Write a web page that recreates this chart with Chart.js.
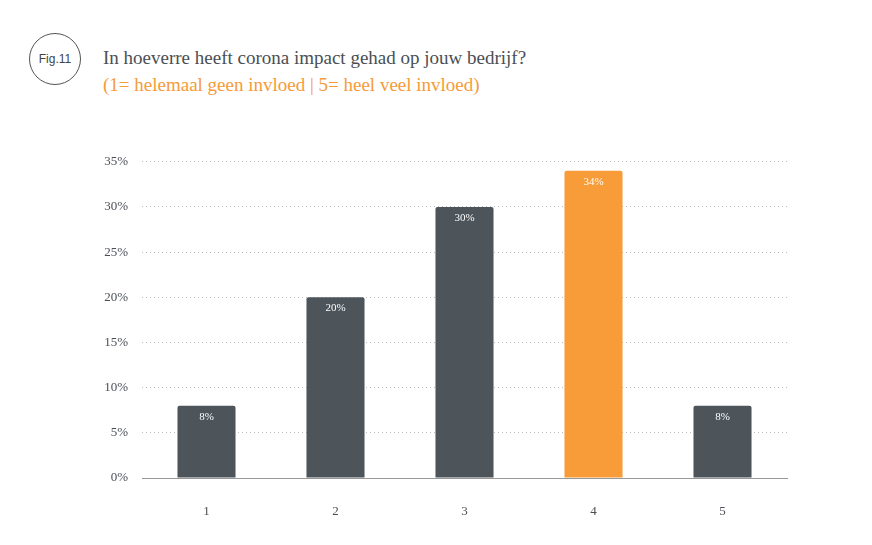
<!DOCTYPE html>
<html>
<head>
<meta charset="utf-8">
<script src="https://cdn.jsdelivr.net/npm/chart.js@4.4.1/dist/chart.umd.min.js"></script>
<style>
  body { margin: 0; background: #fff; width: 872px; height: 545px; position: relative; overflow: hidden; }
  .fig { position: absolute; left: 29px; top: 33px; width: 50px; height: 50px; border: 1px solid #555; border-radius: 50%;
    font: 12px "Liberation Sans", sans-serif; color: #444; display: flex; align-items: center; justify-content: center; }
  .title { position: absolute; left: 103px; top: 47px; font: 19px "Liberation Serif", serif; color: #4a4f55; }
  .sub { position: absolute; left: 103px; top: 74px; font: 19px "Liberation Serif", serif; color: #f59b3a; }
  #wrap { position: absolute; left: 90px; top: 140px; width: 700px; height: 400px; }
</style>
</head>
<body>
<div class="fig">Fig.11</div>
<div class="title">In hoeverre heeft corona impact gehad op jouw bedrijf?</div>
<div class="sub">(1= helemaal geen invloed | 5= heel veel invloed)</div>
<div id="wrap"><canvas id="chart"></canvas></div>
<script>
const categories = ["1", "2", "3", "4", "5"]
const values = [8, 20, 30, 34, 8]
const barColors = ["#4d555b", "#4d555b", "#4d555b", "#f79c38", "#4d555b"]

const valueLabels = {
  id: "valueLabels",
  afterDatasetsDraw(chart) {
    const ctx = chart.ctx
    const meta = chart.getDatasetMeta(0)
    ctx.save()
    ctx.fillStyle = "#fff"
    ctx.font = "11px 'Liberation Serif', serif"
    ctx.textAlign = "center"
    ctx.textBaseline = "middle"
    meta.data.forEach((bar, i) => {
      ctx.fillText(values[i] + "%", bar.x, bar.y + 11)
    })
    ctx.restore()
  },
}

new Chart(document.getElementById("chart"), {
  type: "bar",
  data: {
    labels: categories,
    datasets: [{ data: values, backgroundColor: barColors, borderRadius: 2, barPercentage: 0.45, categoryPercentage: 1 }],
  },
  plugins: [valueLabels],
  options: {
    responsive: true,
    maintainAspectRatio: false,
    animation: false,
    layout: { padding: { top: 2, right: 3, bottom: 0, left: 0 } },
    plugins: { legend: { display: false }, tooltip: { enabled: false } },
    scales: {
      y: {
        min: 0,
        max: 35,
        ticks: { stepSize: 5, callback: (v) => v + "%", color: "#4a4f55", font: { family: "Liberation Serif", size: 13 }, padding: 14 },
        grid: { color: "#bbb", drawTicks: false },
        border: { display: false, dash: [1, 3] },
        afterFit: (s) => { s.width = 52 },
      },
      x: {
        ticks: { color: "#4a4f55", font: { family: "Liberation Serif", size: 13 }, padding: 18 },
        grid: { display: false },
        border: { display: true, color: "#999", width: 1 },
        afterFit: (s) => { s.height = 62 },
      },
    },
  },
})
</script>
</body>
</html>
